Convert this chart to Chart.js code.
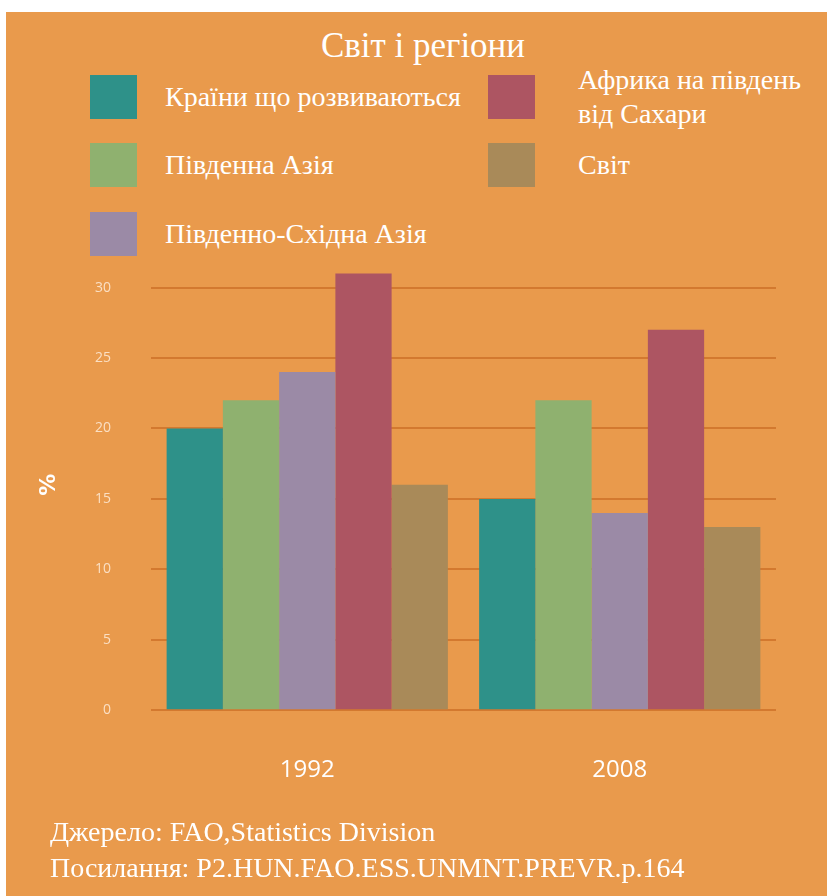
<!DOCTYPE html>
<html>
<head>
<meta charset="utf-8">
<script src="https://cdn.jsdelivr.net/npm/chart.js@4"></script>
<style>
  html, body { margin: 0; padding: 0; background: #fff; }
  #page { position: relative; width: 827px; height: 896px; overflow: hidden; }
  #panel { position: absolute; left: 6px; top: 12px; right: 0; bottom: 0; background: #e99a4c; }
  .serif { font-family: "Liberation Serif", "DejaVu Serif", serif; color: #fff; position: absolute; white-space: nowrap; }
  #title { left: 0; width: 846px; text-align: center; top: 24px; font-size: 35px; line-height: 44px; }
  .box { position: absolute; width: 47px; height: 44px; }
  .lbl { font-size: 28px; line-height: 34px; }
  #chartWrap { position: absolute; left: 0; top: 211px; width: 827px; height: 629px; }
  .foot { font-size: 28px; left: 50px; line-height: 34px; }
</style>
</head>
<body>
<div id="page">
  <div id="panel"></div>
  <div id="title" class="serif">Світ і регіони</div>
  <div id="legend"></div>
  <div id="chartWrap"><canvas id="barChart" width="827" height="629"></canvas></div>
  <div class="serif foot" style="top:815px">Джерело: FAO,Statistics Division</div>
  <div class="serif foot" style="top:851px">Посилання: P2.HUN.FAO.ESS.UNMNT.PREVR.p.164</div>
</div>
<script>
var years = ['1992', '2008'];
var regions = ['Країни що розвиваються', 'Південна Азія', 'Південно-Східна Азія', 'Африка на південь\nвід Сахари', 'Світ'];
var developing = [20, 15];
var southAsia = [22, 22];
var southEastAsia = [24, 14];
var subSaharan = [31, 27];
var world = [16, 13];
var colors = ['#2e9189', '#8fb16f', '#9b8aa6', '#ad5562', '#a98a59'];
var yTicks = [0, 5, 10, 15, 20, 25, 30];

// legend slots, two columns like the original
var slots = [
    {box: [90, 75], text: [165, 80]},
    {box: [90, 143], text: [165, 148]},
    {box: [90, 212], text: [165, 217]},
    {box: [488, 75], text: [578, 63]},
    {box: [488, 143], text: [578, 148]}
];
var legend = document.getElementById('legend');
regions.forEach(function (name, i) {
    var b = document.createElement('div');
    b.className = 'box';
    b.style.left = slots[i].box[0] + 'px';
    b.style.top = slots[i].box[1] + 'px';
    b.style.background = colors[i];
    legend.appendChild(b);
    var t = document.createElement('div');
    t.className = 'serif lbl';
    t.style.left = slots[i].text[0] + 'px';
    t.style.top = slots[i].text[1] + 'px';
    t.innerHTML = name.replace('\n', '<br>');
    legend.appendChild(t);
});

var series = [developing, southAsia, southEastAsia, subSaharan, world];
var ctx = document.getElementById('barChart').getContext('2d');
var chart = new Chart(ctx, {
    type: 'bar',
    data: {
        labels: years,
        datasets: series.map(function (vals, i) {
            return {
                label: regions[i],
                data: vals,
                backgroundColor: colors[i],
                borderWidth: 0
            };
        })
    },
    options: {
        responsive: false,
        animation: false,
        maintainAspectRatio: false,
        layout: { padding: { left: 36, right: 51, top: 18, bottom: 17 } },
        plugins: { legend: { display: false }, tooltip: { enabled: false } },
        datasets: { bar: { categoryPercentage: 0.9, barPercentage: 1.0 } },
        scales: {
            x: {
                grid: { display: false },
                border: { display: false },
                ticks: {
                    color: '#fff',
                    padding: 38,
                    font: { family: 'Open Sans', size: 24 }
                }
            },
            y: {
                min: 0,
                max: 32,
                afterBuildTicks: function (scale) {
                    scale.ticks = yTicks.map(function (v) { return {value: v}; });
                },
                afterFit: function (scale) { scale.width = 115; },
                grid: { color: 'rgba(205,112,40,0.8)', lineWidth: 2, drawTicks: false },
                border: { display: false },
                ticks: {
                    color: 'rgba(255,240,225,0.8)',
                    padding: 40,
                    font: { family: 'Open Sans', size: 14 }
                },
                title: {
                    display: true,
                    text: '%',
                    color: '#fff',
                    padding: 0,
                    font: { family: 'DejaVu Sans', size: 22, weight: 'bold' }
                }
            }
        }
    }
});
</script>
</body>
</html>
